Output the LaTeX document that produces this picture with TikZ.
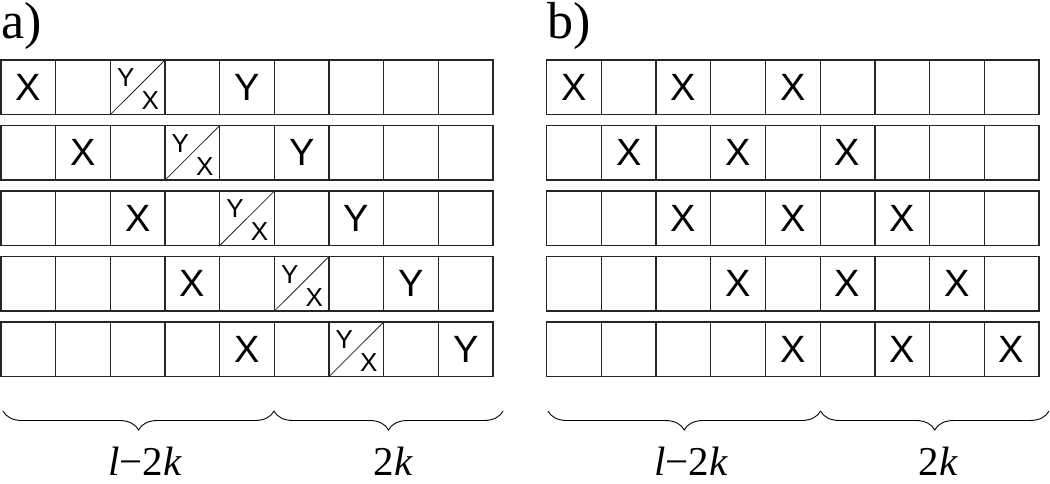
\documentclass[tikz,border=0pt]{standalone}
\usepackage{fontspec}
\setmainfont{Liberation Serif}
\newfontfamily\arialfont{Liberation Sans}
\usetikzlibrary{decorations.pathreplacing}
\tikzset{
  cell/.style={draw=black!85, line width=1.2pt, minimum width=54.67pt, minimum height=54.5pt, inner sep=0pt},
  bigtxt/.style={font=\arialfont\fontsize{38}{38}\selectfont, inner sep=0pt},
  smalltxt/.style={font=\arialfont\fontsize{26}{26}\selectfont, inner sep=0pt},
  diag/.style={line width=0.8pt, draw=black!85},
  bracestyle/.style={decorate, decoration={brace, amplitude=19pt, aspect=0.5}, line width=0.9pt},
  lbl/.style={font=\fontsize{41}{41}\selectfont, anchor=base, inner sep=0pt},
  panel/.style={font=\fontsize{52}{52}\selectfont, anchor=base west, inner sep=0pt}
}
\begin{document}
\begin{tikzpicture}[x=1pt,y=-1pt]
\useasboundingbox (0,0) rectangle (1050,484);
% grids
\foreach \r in {0,...,4} {
  \foreach \c in {0,...,8} {
    \node[cell] (a-\r-\c) at ({1+54.67*(\c+0.5)}, {87.3+65.5*\r}) {};
    \node[cell] (b-\r-\c) at ({546.7+54.7*(\c+0.5)}, {87.3+65.5*\r}) {};
  }
}
% contents
\foreach \r in {0,...,4} {
  \pgfmathtruncatemacro\d{\r+2}
  \pgfmathtruncatemacro\e{\r+4}
  % panel a
  \node[bigtxt] (ax-\r) at (a-\r-\r) {X};
  \draw[diag] (a-\r-\d.south west) -- (a-\r-\d.north east);
  \node[smalltxt, xshift=-12pt, yshift=9.5pt] (ay-\r) at (a-\r-\d) {Y};
  \node[smalltxt, xshift=12.5pt, yshift=-13.5pt] (axs-\r) at (a-\r-\d) {X};
  \node[bigtxt] (ayb-\r) at (a-\r-\e) {Y};
  % panel b
  \node[bigtxt] (bx1-\r) at (b-\r-\r) {X};
  \node[bigtxt] (bx2-\r) at (b-\r-\d) {X};
  \node[bigtxt] (bx3-\r) at (b-\r-\e) {X};
}
% panel labels
\node[panel] (pa) at (1,39) {a)};
\node[panel] (pb) at (547,39) {b)};
% braces
\coordinate (ba0) at (3,411);
\coordinate (ba1) at (274,411);
\coordinate (ba2) at (503,411);
\coordinate (bb0) at (548,411);
\coordinate (bb1) at (820.5,411);
\coordinate (bb2) at (1049,411);
\draw[bracestyle] (ba1) -- (ba0);
\draw[bracestyle] (ba2) -- (ba1);
\draw[bracestyle] (bb1) -- (bb0);
\draw[bracestyle] (bb2) -- (bb1);
% range labels
\node[lbl] (la1) at (145,475) {\itshape l\upshape−2\itshape k};
\node[lbl] (la2) at (393,475) {2\itshape k};
\node[lbl] (lb1) at (691,475) {\itshape l\upshape−2\itshape k};
\node[lbl] (lb2) at (938,475) {2\itshape k};
\end{tikzpicture}
\end{document}
